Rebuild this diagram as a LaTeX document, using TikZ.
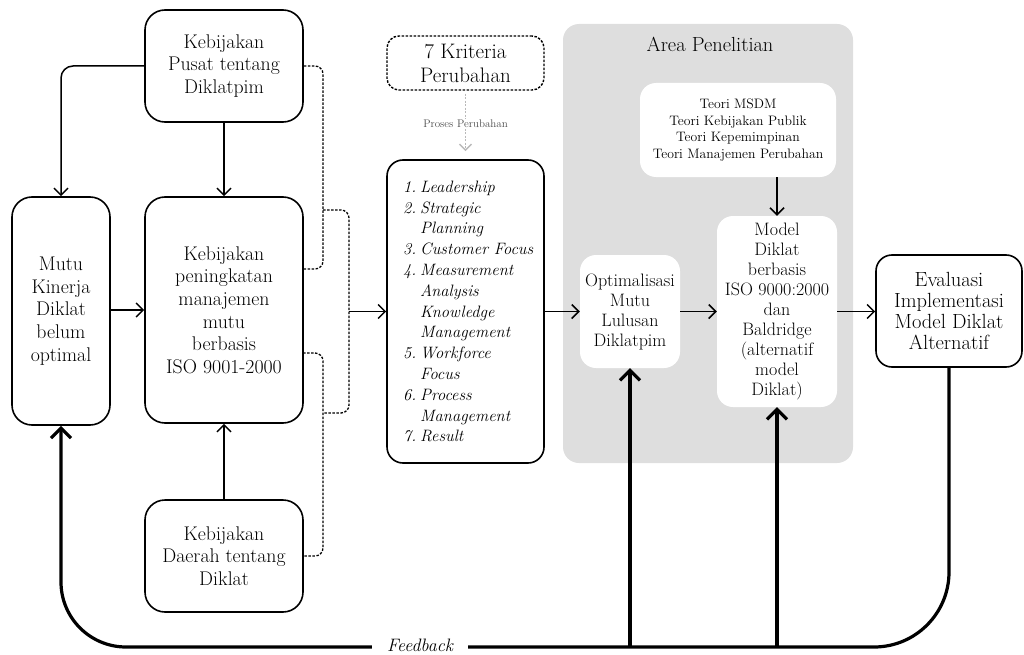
\documentclass[tikz,border=0pt]{standalone}
\usepackage{fontspec}
\usetikzlibrary{arrows.meta}
\definecolor{areagray}{RGB}{222,222,222}
\begin{document}
\begin{tikzpicture}[x=1pt,y=-1pt,
  box/.style={draw=black, line width=1.6pt, rounded corners=20pt, align=center, inner sep=0pt},
  wbox/.style={fill=white, rounded corners=16pt, align=center, inner sep=0pt},
  bigtxt/.style={font=\fontsize{19.8}{22.6}\selectfont},
  midtxt/.style={font=\fontsize{18}{20}\selectfont},
  arr/.style={line width=1.5pt, -{Straight Barb[length=7pt,width=14pt]}},
  fb/.style={line width=3.2pt, -{Straight Barb[length=10pt,width=20pt]}},
  dsh/.style={line width=1.3pt, dash pattern=on 2.5pt off 1.5pt, rounded corners=8pt},
]
\useasboundingbox (0,0) rectangle (1024,655);

% research area background
\fill[areagray, rounded corners=16pt] (563,24) rectangle (853,463);
\node[font=\fontsize{20.4}{22}\selectfont] (area) at (710,44) {Area Penelitian};

% left column
\node[box, bigtxt, minimum width=98pt, minimum height=228pt] (mutu) at (61,311) {Mutu\\Kinerja\\Diklat\\belum\\optimal};
\node[box, bigtxt, minimum width=158pt, minimum height=112pt] (pusat) at (224,66) {Kebijakan\\Pusat tentang\\Diklatpim};
\node[box, bigtxt, minimum width=158pt, minimum height=226pt] (keb) at (224,310) {Kebijakan\\peningkatan\\manajemen\\mutu\\berbasis\\ISO 9001-2000};
\node[box, bigtxt, minimum width=158pt, minimum height=112pt] (daerah) at (224,556) {Kebijakan\\Daerah tentang\\Diklat};

% criteria
\node[box, dash pattern=on 2.5pt off 1.5pt, line width=1.4pt, rounded corners=12pt, font=\fontsize{21}{24}\selectfont, minimum width=157pt, minimum height=54pt] (kri) at (465.5,63) {7 Kriteria\\Perubahan};
\node[box, rounded corners=16pt, minimum width=157pt, minimum height=303pt] (list) at (465.5,311.5) {};
\node[anchor=west, align=left, inner sep=0pt, font=\fontsize{16.5}{20.8}\selectfont\itshape] (listtxt) at (403,311.5)
{\makebox[17pt][l]{1.}Leadership\\
 \makebox[17pt][l]{2.}Strategic\\
 \makebox[17pt][l]{}Planning\\
 \makebox[17pt][l]{3.}Customer Focus\\
 \makebox[17pt][l]{4.}Measurement\\
 \makebox[17pt][l]{}Analysis\\
 \makebox[17pt][l]{}Knowledge\\
 \makebox[17pt][l]{}Management\\
 \makebox[17pt][l]{5.}Workforce\\
 \makebox[17pt][l]{}Focus\\
 \makebox[17pt][l]{6.}Process\\
 \makebox[17pt][l]{}Management\\
 \makebox[17pt][l]{7.}Result};

% area boxes
\node[wbox, font=\fontsize{13.7}{16.7}\selectfont, minimum width=196pt, minimum height=94pt] (teori) at (738,130) {Teori MSDM\\Teori Kebijakan Publik\\Teori Kepemimpinan\\Teori Manajemen Perubahan};
\node[wbox, midtxt, minimum width=100pt, minimum height=113pt] (opt) at (630,311.5) {Optimalisasi\\Mutu\\Lulusan\\Diklatpim};
\node[wbox, midtxt, minimum width=120pt, minimum height=191pt] (model) at (777,311.5) {Model\\Diklat\\berbasis\\ISO 9000:2000\\dan\\Baldridge\\(alternatif\\model\\Diklat)};

% evaluation
\node[box, rounded corners=16pt, font=\fontsize{20.5}{21}\selectfont, minimum width=146pt, minimum height=112pt] (eval) at (949,311) {Evaluasi\\Implementasi\\Model Diklat\\Alternatif};

% solid arrows
\draw[arr, rounded corners=12pt] (pusat.west) -| (mutu.north);
\draw[arr] (pusat.south) -- (keb.north);
\draw[arr] (mutu.east |- keb.west) -- (keb.west);
\draw[arr] (daerah.north) -- (keb.south);
\draw[arr] (list.east) -- (opt.west);
\draw[arr] (opt.east) -- (opt.east -| model.west);
\draw[arr] (teori.south -| model.north) -- (model.north);
\draw[arr] (model.east) -- (model.east -| eval.west);

% dashed brackets
\coordinate (k1) at (303,269);
\coordinate (k2) at (303,353);
\coordinate (b1) at (323,210);
\coordinate (b2) at (323,413);
\coordinate (bm) at (349,311.5);
\draw[dsh] (pusat.east) -| (323,269) -- (k1);
\draw[dsh] (k2) -| (323,556) -- (daerah.east);
\draw[dsh] (b1) -| (349,413) -- (b2);
\draw[arr] (bm) -- (list.west);

% process arrow
\draw[gray!55, line width=1.5pt, dash pattern=on 2pt off 1.5pt, -{Straight Barb[length=6pt,width=12pt]}, shorten <=3pt, shorten >=8pt] (kri.south) -- (list.north);
\node[fill=white, inner sep=1.5pt, text=black!70, font=\fontsize{11}{12}\selectfont] (proses) at (465.5,124) {Proses Perubahan};

% feedback
\coordinate (fbmid) at (500,647);
\draw[fb] (eval.south) [rounded corners=75pt] |- (fbmid) [rounded corners=65pt] -| (mutu.south);
\draw[fb] (opt.south |- fbmid) -- (opt.south);
\draw[fb] (model.south |- fbmid) -- (model.south);
\node[fill=white, inner xsep=15pt, inner ysep=2pt, font=\fontsize{18}{18}\selectfont\itshape] (fbl) at (420,645) {Feedback};
\end{tikzpicture}
\end{document}
